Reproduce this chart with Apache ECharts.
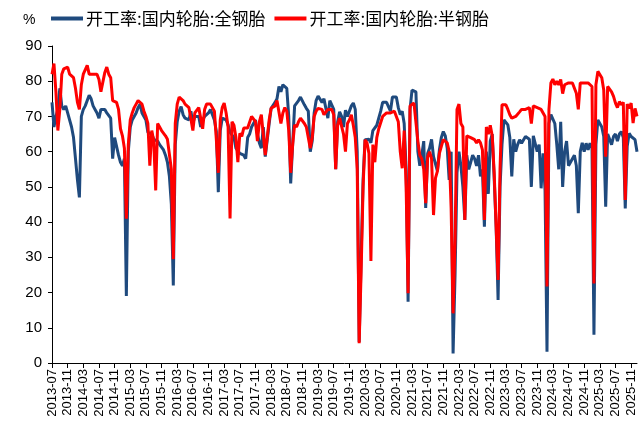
<!DOCTYPE html>
<html><head><meta charset="utf-8">
<script src="https://cdn.jsdelivr.net/npm/echarts@6/dist/echarts.min.js"></script>
<style>html,body{margin:0;padding:0;background:#fff}#c{width:644px;height:439px}</style>
</head><body><div id="c"></div>
<script>
// semi-monthly periods, 2013-07 .. 2025-12
const startYear = 2013, startMonth = 7, periodCount = 300;
const periods = [];
for (let i = 0; i < periodCount / 2; i++) {
  const mm = startMonth - 1 + i;
  const y = startYear + Math.floor(mm / 12), m = (mm % 12) + 1;
  const ms = (m < 10 ? '0' : '') + m;
  periods.push(y + '-' + ms + '-01', y + '-' + ms + '-16');
}
const seriesNames = ['开工率:国内轮胎:全钢胎', '开工率:国内轮胎:半钢胎'];
const allSteel = [
  74,67,70,72,78,73,72,73,71,71,
  67,64,58,52,47,70,72,73,73.5,76,
  75,73,72,71,69.5,72,72,72,71,70.5,
  69.5,58,64,64,59,57,56,58,19,60,
  67,69,70,71,72.5,73.5,71,70,69,65.5,
  65.5,65,63.5,63,63,62,61.5,60.5,59,57,
  53,45,22,62,68.5,71.5,72.8,70.5,69.5,69.5,
  69,71.5,68,70,70.5,70,67,69,70,70,
  71,72,71.5,69,65.7,48.5,66,69.5,69.5,69,
  67.6,65.5,66,64,61,61,59.5,59.5,59,58,
  64,65,67,67.5,69,65,62.5,61,67,58.6,
  58.6,68,72.3,72.5,74,75,78.5,77,79,78.5,
  78,70,51,62,73,73,74.5,75.5,75.5,73.3,
  72.3,71.5,60,63,71,74.5,75.8,75.5,74,75,
  74.5,69.5,74.5,75,72,55,68.5,71.3,70,67,
  71.8,70,69.5,73,73.8,72,60,6,30,52,
  63.4,63.5,63.5,62.5,66,66,67.5,69.5,71.5,74,
  74.5,74,74,71.5,75.5,75.8,75.5,72.5,70.5,71.5,
  68,55,17.4,72,77.5,78,77,60,56,59,
  63,44,59.5,61,63.5,58.6,58.6,54.5,60.5,64,
  65.7,64.5,61,52,60,2.7,25,54,60,56,
  50,40.6,59,55,57,59,58,56,59,53,
  55,38.7,60,48,63,65,52.5,38.7,17.9,50,
  62,69,68.5,67.6,64,53,63.5,60,62,63.4,
  62.4,62,64.3,64.5,63.5,50,64.5,64,60,62,
  49.6,59.5,49,3.2,68,70.5,70,68,62,55,
  68.5,50,60,63,56,57,58,59,56,42.5,
  60,62.5,60,62.4,60.5,62.4,61,8,62,69,
  69,67,64.3,44.4,65,65.2,62,64.3,65,63,
  65,65.7,64,43.9,61.5,65.2,64.3,64.3,63.4,60
];
const semiSteel = [
  82,85,77,66,72,82,83.5,84,84,82,
  82,81,78,74,72,79,82,82.5,84.5,82,
  81.5,82,82.5,82,80.5,77,76.5,82.5,84,82,
  81,74.5,74,74,72,66.5,64.5,61,41,62,
  69,71,72.5,73.5,74.5,74.5,73.5,71.5,70,68,
  56,66,63,49,68,67,66,66,64.5,63.5,
  63,55,29.5,68,73.5,75.5,76,74.5,73.5,73,
  72.5,73,66,71,71.5,72.5,72,66.5,72,73.5,
  73.8,73.5,73.5,71.5,63.4,54,69,72.5,73.8,71,
  67,41,68.5,67.5,64,57,65.2,64.3,66.7,66.2,
  66.7,66.7,70,70,68.5,63,68.5,70.5,71,59,
  58.6,69,72.3,72.7,73,74.5,74.5,68,71,72.5,
  71.5,66,54,62,67.6,67,68.5,69.5,69.5,68,
  67,66.5,61,64,70,71.5,72.3,72,72,70.5,
  71,72,72.5,72,70.5,55,67.5,69.5,69.5,65,
  60,68,69,70.5,67.5,64,55,5.6,26,50,
  63.4,62.5,59.5,29,62,57,64,66.5,67,70,
  70.5,71,70.5,71,70.5,71.5,71,68.5,60,55.3,
  66,50,19.8,73,73.3,73.8,73.3,63,59,58,
  55,45.4,58.5,60,58,42,52.5,54.5,59.5,61.5,
  63.4,63.5,62.5,60,44,14.1,35,72,73.5,68,
  67,40.6,64.5,64,64,64,63.4,62.5,63.4,62.5,
  60.5,40.6,67,65,67.5,64.5,54,38.7,23.6,55,
  73.3,73.5,73.3,72,70.5,69.5,69.5,70,70.5,71.3,
  72,72,72,72.3,72.5,68,73,73.3,72.5,72,
  72,71.5,70,21.7,72,79.5,80.6,79,80,79,
  80.5,76.5,79,79.5,79.5,79.5,79.5,79,76.6,72,
  79.5,79.5,79.5,79.5,79.5,79,78.5,22.6,79,82.8,
  82.8,81,77.5,58.6,78.5,78,77,75.7,73.8,72.5,
  74.2,73.3,74,46.3,73.5,72.3,73.8,68.1,72.3,70
];
const yTicks = {min: 0, max: 90, interval: 10};

const chart = echarts.init(document.getElementById('c'), null, {renderer: 'canvas'});
chart.setOption({
  animation: false,
  backgroundColor: '#fff',
  title: {text: '%', left: 18, top: 8, textStyle: {fontSize: 14, fontWeight: 'normal', color: '#000', fontFamily: 'Liberation Sans'}},
  legend: {
    left: 46, top: 5, icon: 'rect', itemWidth: 32, itemHeight: 4, itemGap: 9,
    textStyle: {fontSize: 17, color: '#000', fontFamily: 'Noto Sans CJK SC', padding: [0, 0, 0, -2]},
    data: seriesNames
  },
  grid: {left: 52, right: 7, top: 46, bottom: 76, containLabel: false},
  xAxis: {
    type: 'category', data: periods, boundaryGap: false,
    axisLine: {lineStyle: {color: '#000', width: 1}},
    axisTick: {interval: 7, length: 5, lineStyle: {color: '#000'}},
    axisLabel: {interval: 7, rotate: 90, fontSize: 13, color: '#000', fontFamily: 'Liberation Sans', margin: 6,
      formatter: v => v.slice(0, 7)},
    splitLine: {show: false}
  },
  yAxis: {
    type: 'value', min: yTicks.min, max: yTicks.max, interval: yTicks.interval,
    axisLine: {show: true, lineStyle: {color: '#000', width: 1}},
    axisTick: {show: true, length: 4, lineStyle: {color: '#000'}},
    axisLabel: {fontSize: 15, color: '#000', fontFamily: 'Liberation Sans', margin: 10},
    splitLine: {show: false}
  },
  series: [
    {name: seriesNames[0], type: 'line', data: allSteel, showSymbol: false, symbol: 'none',
     lineStyle: {color: '#1F4A7E', width: 3}, itemStyle: {color: '#1F4A7E'}},
    {name: seriesNames[1], type: 'line', data: semiSteel, showSymbol: false, symbol: 'none',
     lineStyle: {color: '#FF0000', width: 3}, itemStyle: {color: '#FF0000'}}
  ]
});
</script></body></html>
